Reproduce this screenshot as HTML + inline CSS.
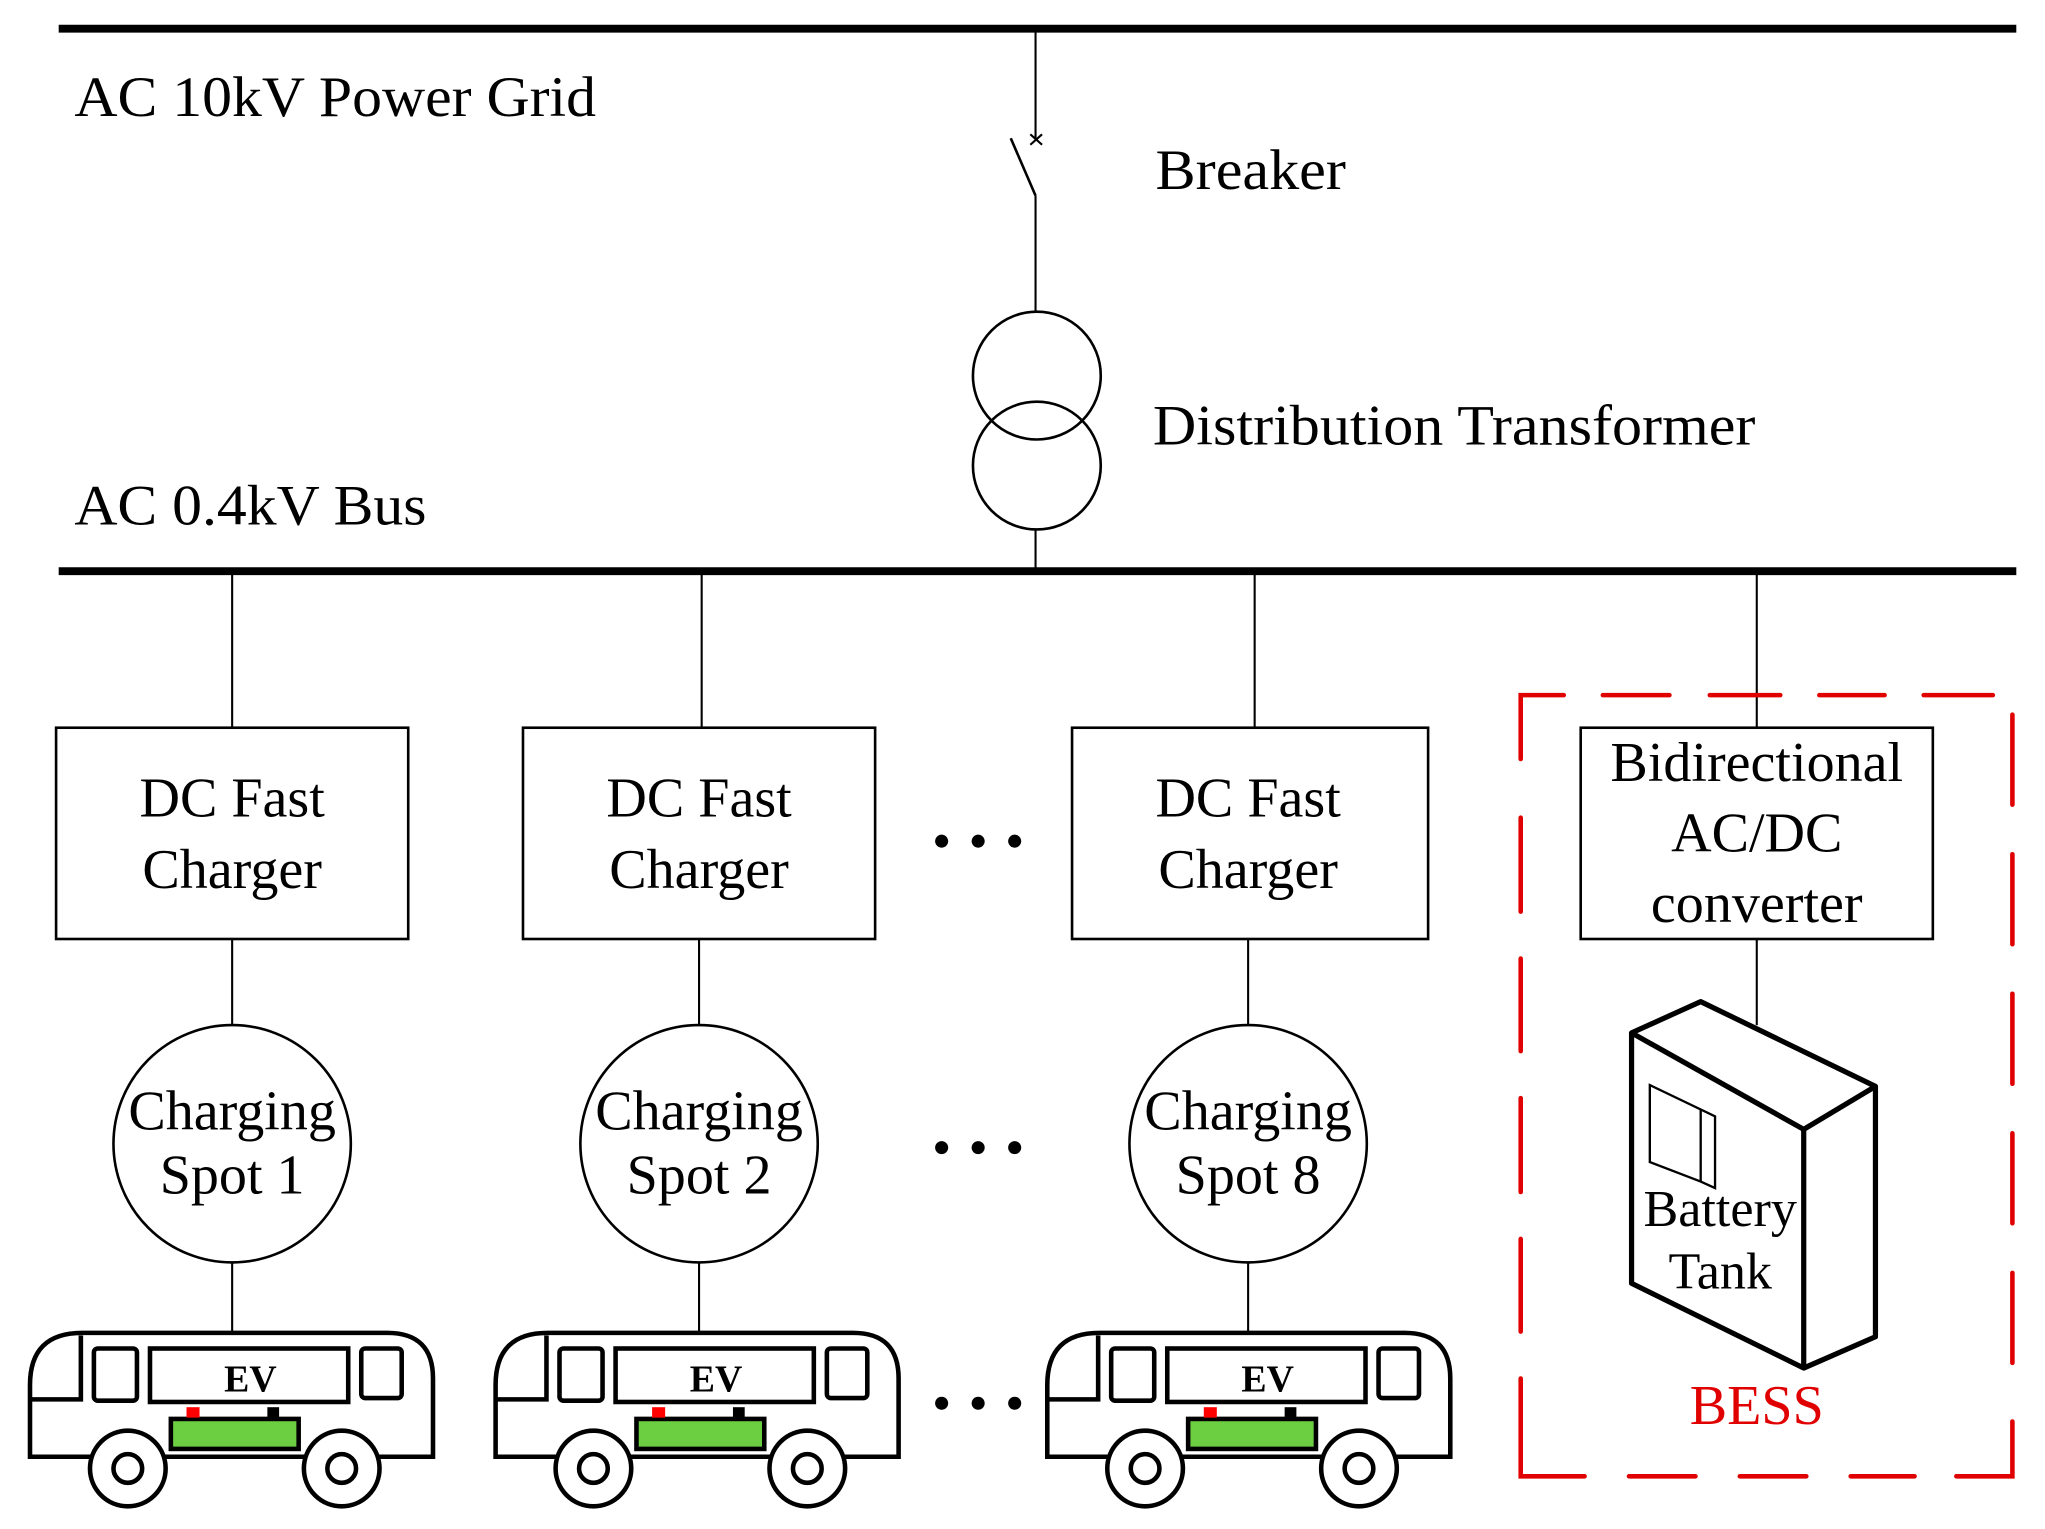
<!DOCTYPE html>
<html><head><meta charset="utf-8"><style>
html,body{margin:0;padding:0;background:#fff;}
svg{display:block;}
text{font-family:"Liberation Serif",serif;fill:#000;}
</style></head><body>
<svg width="2045" height="1529" viewBox="0 0 1568 1172.4" preserveAspectRatio="none" xmlns="http://www.w3.org/2000/svg">
<g stroke="#000" fill="none">
<line x1="45" y1="22" x2="1546" y2="22" stroke-width="6"/>
<line x1="45" y1="438" x2="1546" y2="438" stroke-width="6"/>
<!-- breaker -->
<line x1="794" y1="22" x2="794" y2="107" stroke-width="1.6"/>
<line x1="790" y1="103" x2="799" y2="111" stroke-width="1.6"/>
<line x1="799" y1="103" x2="790" y2="111" stroke-width="1.6"/>
<line x1="775" y1="106" x2="794" y2="150" stroke-width="2"/>
<line x1="794" y1="150" x2="794" y2="239" stroke-width="1.6"/>
<circle cx="795" cy="288" r="49" stroke-width="2"/>
<circle cx="795" cy="357" r="49" stroke-width="2"/>
<line x1="794" y1="406" x2="794" y2="438" stroke-width="1.6"/>
<!-- branches -->
<line x1="178" y1="438" x2="178" y2="558" stroke-width="1.6"/>
<line x1="538" y1="438" x2="538" y2="558" stroke-width="1.6"/>
<line x1="962" y1="438" x2="962" y2="558" stroke-width="1.6"/>
<line x1="1347" y1="438" x2="1347" y2="558" stroke-width="1.6"/>
<rect x="43" y="558" width="270" height="162" stroke-width="2"/>
<rect x="401" y="558" width="270" height="162" stroke-width="2"/>
<rect x="822" y="558" width="273" height="162" stroke-width="2"/>
<rect x="1212" y="558" width="270" height="162" stroke-width="2"/>
<line x1="178" y1="720" x2="178" y2="786" stroke-width="1.6"/>
<line x1="536" y1="720" x2="536" y2="786" stroke-width="1.6"/>
<line x1="957" y1="720" x2="957" y2="786" stroke-width="1.6"/>
<line x1="1347" y1="720" x2="1347" y2="786" stroke-width="1.6"/>
<circle cx="178" cy="877" r="91" stroke-width="2"/>
<circle cx="536" cy="877" r="91" stroke-width="2"/>
<circle cx="957" cy="877" r="91" stroke-width="2"/>
<line x1="178" y1="968" x2="178" y2="1034" stroke-width="1.6"/>
<line x1="536" y1="968" x2="536" y2="1034" stroke-width="1.6"/>
<line x1="957" y1="968" x2="957" y2="1034" stroke-width="1.6"/>
<!-- battery tank -->
<g stroke-width="4" stroke-linejoin="round">
<polygon points="1251,792 1304,768 1438,833 1383,866" fill="#fff"/>
<polyline points="1251,792 1251,984 1383,1049 1438,1025 1438,833"/>
<line x1="1383" y1="866" x2="1383" y2="1049"/>
</g>
<g stroke-width="1.8">
<polygon points="1265,832 1315,856 1315,911 1304,906 1265,891"/>
<line x1="1304" y1="851" x2="1304" y2="906"/>
</g>
<!-- dashed BESS -->
<g stroke="#e00000" stroke-width="3.5" stroke-linecap="round">
<polyline points="1166,582 1166,533 1199,533"/>
<line x1="1229" y1="533" x2="1280" y2="533"/>
<line x1="1311" y1="533" x2="1365" y2="533"/>
<line x1="1395" y1="533" x2="1445" y2="533"/>
<line x1="1475" y1="533" x2="1528" y2="533"/>
<line x1="1166" y1="627" x2="1166" y2="699"/>
<line x1="1166" y1="735" x2="1166" y2="806"/>
<line x1="1166" y1="842" x2="1166" y2="914"/>
<line x1="1166" y1="950" x2="1166" y2="1021"/>
<polyline points="1166,1057 1166,1132 1215,1132"/>
<line x1="1249" y1="1132" x2="1300" y2="1132"/>
<line x1="1334" y1="1132" x2="1385" y2="1132"/>
<line x1="1419" y1="1132" x2="1468" y2="1132"/>
<polyline points="1500,1132 1543,1132 1543,1090"/>
<line x1="1543" y1="548" x2="1543" y2="617"/>
<line x1="1543" y1="655" x2="1543" y2="724"/>
<line x1="1543" y1="762" x2="1543" y2="831"/>
<line x1="1543" y1="869" x2="1543" y2="938"/>
<line x1="1543" y1="976" x2="1543" y2="1045"/>
</g>
</g>
<!-- dots -->
<g fill="#000">
<circle cx="722" cy="645" r="5"/><circle cx="750" cy="645" r="5"/><circle cx="778" cy="645" r="5"/>
<circle cx="722" cy="880" r="5"/><circle cx="750" cy="880" r="5"/><circle cx="778" cy="880" r="5"/>
<circle cx="722" cy="1076" r="5"/><circle cx="750" cy="1076" r="5"/><circle cx="778" cy="1076" r="5"/>
</g>
<!-- buses -->
<defs>
<g id="bus">
<g stroke="#000" stroke-width="3.5" fill="none">
<path d="M23,1117 L23,1062 Q23,1022 63,1022 L297,1022 Q332,1022 332,1057 L332,1117 Z" fill="#fff"/>
<polyline points="62,1024 62,1073 23,1073"/>
<rect x="72" y="1034" width="33" height="40" rx="3"/>
<rect x="115" y="1034" width="152" height="41"/>
<rect x="277" y="1034" width="31" height="38" rx="3"/>
<rect x="131" y="1088" width="98" height="23" fill="#6ccf42"/>
<circle cx="98" cy="1126" r="29" fill="#fff"/>
<circle cx="98" cy="1126" r="11"/>
<circle cx="262" cy="1126" r="29" fill="#fff"/>
<circle cx="262" cy="1126" r="11"/>
</g>
<rect x="143" y="1079" width="10" height="8" fill="#f00"/>
<rect x="205" y="1079" width="9" height="8" fill="#000"/>
<text x="192" y="1067" font-size="29" font-weight="bold" text-anchor="middle">EV</text>
</g>
</defs>
<use href="#bus"/>
<use href="#bus" x="357"/>
<use href="#bus" x="780"/>
<!-- texts -->
<g font-size="44">
<text x="57" y="89" textLength="400" lengthAdjust="spacingAndGlyphs">AC 10kV Power Grid</text>
<text x="57" y="402" textLength="270" lengthAdjust="spacingAndGlyphs">AC 0.4kV Bus</text>
<text x="886" y="145" textLength="146" lengthAdjust="spacingAndGlyphs">Breaker</text>
<text x="884" y="341" textLength="462" lengthAdjust="spacingAndGlyphs">Distribution Transformer</text>
</g>
<g font-size="43" text-anchor="middle">
<text x="178" y="626">DC Fast</text><text x="178" y="681">Charger</text>
<text x="536" y="626">DC Fast</text><text x="536" y="681">Charger</text>
<text x="957" y="626">DC Fast</text><text x="957" y="681">Charger</text>
<text x="1347" y="599">Bidirectional</text>
<text x="1347" y="653">AC/DC</text>
<text x="1347" y="707">converter</text>
<text x="178" y="866">Charging</text><text x="178" y="915">Spot 1</text>
<text x="536" y="866">Charging</text><text x="536" y="915">Spot 2</text>
<text x="957" y="866">Charging</text><text x="957" y="915">Spot 8</text>
<text x="1319" y="940" font-size="40">Battery</text>
<text x="1319" y="988" font-size="40">Tank</text>
<text x="1347" y="1092" fill="#e00000" style="fill:#e00000">BESS</text>
</g>
</svg>
</body></html>
